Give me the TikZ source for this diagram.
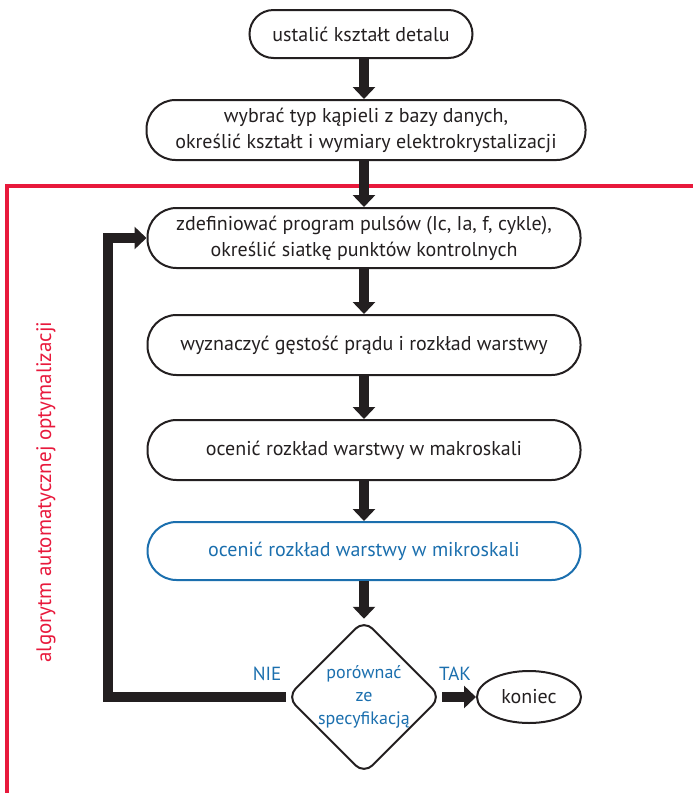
\documentclass[tikz,border=0pt]{standalone}
\usepackage{fontspec}
\setmainfont{PT Sans}
\usetikzlibrary{arrows.meta,shapes.geometric}
\definecolor{myred}{HTML}{E8193C}
\definecolor{myblue}{HTML}{1B6FAE}
\definecolor{myblack}{HTML}{231F20}
\tikzset{
  stepbox/.style={draw=myblack, line width=2pt, rounded corners=29pt, minimum height=60pt, align=center, font=\fontsize{20}{26}\selectfont, text=myblack},
  flow/.style={draw=myblack, line width=10pt, line join=miter, -{Triangle[width=22pt,length=12pt]}},
  lbl/.style={text=myblue, font=\fontsize{19}{22}\selectfont},
}
\begin{document}
\begin{tikzpicture}[x=1pt,y=-1pt]
\useasboundingbox (0,0) rectangle (693,793);
% red frame
\draw[myred, line width=4pt, line join=miter] (700,186) -- (7,186) -- (7,800);
\node[text=myred, rotate=90, font=\fontsize{21}{24}\selectfont] (title) at (46,492) {algorytm automatycznej optymalizacji};
% boxes
\node[stepbox, minimum width=223pt, minimum height=48pt, rounded corners=24pt] (b1) at (361,34) {ustalić kształt detalu};
\node[stepbox, minimum width=439pt] (b2) at (366,130) {wybrać typ kąpieli z bazy danych,\\określić kształt i wymiary elektrokrystalizacji};
\node[stepbox, minimum width=433pt] (b3) at (364,238) {zdefiniować program pulsów (Ic, Ia, f, cykle),\\określić siatkę punktów kontrolnych};
\node[stepbox, minimum width=433pt] (b4) at (364,345) {wyznaczyć gęstość prądu i rozkład warstwy};
\node[stepbox, minimum width=433pt] (b5) at (364,450) {ocenić rozkład warstwy w makroskali};
\node[stepbox, minimum width=433pt, draw=myblue, text=myblue, minimum height=58pt] (b6) at (364,551) {ocenić rozkład warstwy w mikroskali};
\node[draw=myblack, line width=2pt, diamond, rounded corners=12pt, inner sep=0pt, minimum width=146pt, minimum height=140pt, align=center, text=myblue, font=\fontsize{18}{23}\selectfont] (d) at (364,697) {porównać\\ze\\specyfikacją};
\node[draw=myblack, line width=2pt, ellipse, minimum width=104pt, minimum height=52pt, inner sep=0pt, font=\fontsize{20}{22}\selectfont, text=myblack] (end) at (529,697) {koniec};
% arrows
\draw[flow] (b1.south -| 364,0) -- (b2.north -| 364,0);
\draw[flow] (b2.south -| 364,0) -- (b3.north -| 364,0);
\draw[flow] (b3) -- (b4);
\draw[flow] (b4) -- (b5);
\draw[flow] (b5) -- (b6);
\draw[flow] (b6) -- (d);
\draw[flow] (d.west) -- (108,697) |- (b3.west);
\draw[flow] (d.east) -- (end.west);
% labels
\node[lbl] (nie) at (267,674) {NIE};
\node[lbl] (tak) at (455,674) {TAK};
\end{tikzpicture}
\end{document}
